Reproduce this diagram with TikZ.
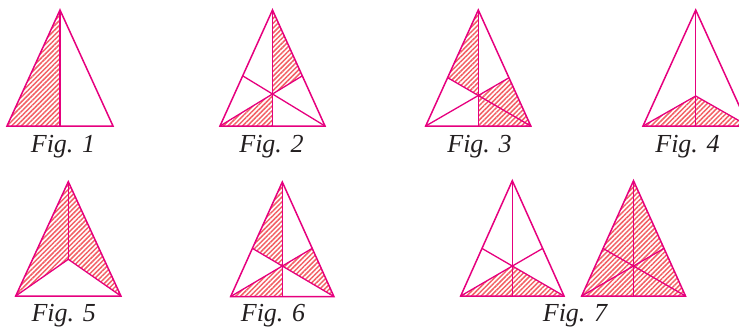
\documentclass[tikz,border=0pt]{standalone}
\usepackage{fontspec}
\setmainfont{Liberation Serif}
\usetikzlibrary{patterns.meta}
\definecolor{edgemag}{RGB}{230,0,126}
\definecolor{hatchred}{RGB}{242,96,100}
\definecolor{inkgray}{RGB}{35,31,32}
\tikzset{
  side/.style={draw=edgemag, line width=1.5pt, line join=miter},
  cut/.style={draw=edgemag, line width=1.3pt},
  shaded/.style={pattern={Lines[angle=45,distance=3.4pt,line width=1.5pt]}, pattern color=hatchred},
  figlabel/.style={anchor=base, inner sep=0pt, text=inkgray,
    font=\fontsize{26}{30}\selectfont\itshape}
}

\begin{document}
\begin{tikzpicture}[x=1pt,y=-1pt]
  \useasboundingbox (0,0) rectangle (739,330);
  \clip (0,0) rectangle (739,330);

  % Fig. 1
  \coordinate (a1) at (60,10);
  \coordinate (b1) at (7,126);
  \coordinate (c1) at (113,126);
  \coordinate (m1) at (60,126);
  \fill[shaded] (a1) -- (b1) -- (m1) -- cycle;
  \draw[side] (a1) -- (b1) -- (c1) -- cycle;
  \draw[cut] (a1) -- (m1);

  % Fig. 2
  \coordinate (a2) at (272.5,10);
  \coordinate (b2) at (220,126);
  \coordinate (c2) at (325,126);
  \coordinate (m2) at (272.5,126);
  \coordinate (o2) at (272.5,94);
  \coordinate (l2) at (intersection of c2--o2 and a2--b2);
  \coordinate (r2) at (intersection of b2--o2 and a2--c2);
  \fill[shaded] (a2) -- (o2) -- (r2) -- cycle;
  \fill[shaded] (b2) -- (m2) -- (o2) -- cycle;
  \draw[side] (a2) -- (b2) -- (c2) -- cycle;
  \draw[cut] (a2) -- (m2);
  \draw[cut] (b2) -- (r2);
  \draw[cut] (c2) -- (l2);

  % Fig. 3
  \coordinate (a3) at (478.3,10);
  \coordinate (b3) at (425.7,126);
  \coordinate (c3) at (530.8,126);
  \coordinate (m3) at (478.3,126);
  \coordinate (o3) at (478.3,95.5);
  \coordinate (l3) at (intersection of c3--o3 and a3--b3);
  \coordinate (r3) at (intersection of b3--o3 and a3--c3);
  \fill[shaded] (a3) -- (l3) -- (o3) -- cycle;
  \fill[shaded] (o3) -- (r3) -- (c3) -- (m3) -- cycle;
  \draw[side] (a3) -- (b3) -- (c3) -- cycle;
  \draw[cut] (a3) -- (m3);
  \draw[cut] (b3) -- (r3);
  \draw[cut] (c3) -- (l3);

  % Fig. 4
  \coordinate (a4) at (695.7,10);
  \coordinate (b4) at (643,126);
  \coordinate (c4) at (748.4,126);
  \coordinate (m4) at (695.7,126);
  \coordinate (o4) at (695.7,96);
  \fill[shaded] (b4) -- (o4) -- (c4) -- cycle;
  \draw[side] (a4) -- (b4) -- (c4) -- cycle;
  \draw[cut] (a4) -- (m4);
  \draw[cut] (b4) -- (o4) -- (c4);

  % Fig. 5
  \coordinate (a5) at (68.3,181.7);
  \coordinate (b5) at (15.7,296);
  \coordinate (c5) at (120.9,296);
  \coordinate (o5) at (68.3,259.3);
  \fill[shaded] (a5) -- (b5) -- (o5) -- (c5) -- cycle;
  \draw[side] (a5) -- (b5) -- (c5) -- cycle;
  \draw[cut] (a5) -- (o5);
  \draw[cut] (b5) -- (o5) -- (c5);

  % Fig. 6
  \coordinate (a6) at (282.3,182);
  \coordinate (b6) at (230.7,296.5);
  \coordinate (c6) at (333.9,296.5);
  \coordinate (m6) at (282.3,296.5);
  \coordinate (o6) at (282.3,266);
  \coordinate (l6) at (intersection of c6--o6 and a6--b6);
  \coordinate (r6) at (intersection of b6--o6 and a6--c6);
  \fill[shaded] (a6) -- (l6) -- (o6) -- cycle;
  \fill[shaded] (o6) -- (r6) -- (c6) -- cycle;
  \fill[shaded] (b6) -- (m6) -- (o6) -- cycle;
  \draw[side] (a6) -- (b6) -- (c6) -- cycle;
  \draw[cut] (a6) -- (m6);
  \draw[cut] (b6) -- (r6);
  \draw[cut] (c6) -- (l6);

  % Fig. 7, left
  \coordinate (a7) at (512.3,180.7);
  \coordinate (b7) at (460.7,296);
  \coordinate (c7) at (564,296);
  \coordinate (m7) at (512.3,296);
  \coordinate (o7) at (512.3,266);
  \coordinate (l7) at (intersection of c7--o7 and a7--b7);
  \coordinate (r7) at (intersection of b7--o7 and a7--c7);
  \fill[shaded] (b7) -- (c7) -- (o7) -- cycle;
  \draw[side] (a7) -- (b7) -- (c7) -- cycle;
  \draw[cut] (a7) -- (m7);
  \draw[cut] (b7) -- (r7);
  \draw[cut] (c7) -- (l7);

  % Fig. 7, right
  \coordinate (a8) at (633.5,180.7);
  \coordinate (b8) at (581.7,296);
  \coordinate (c8) at (685.5,296);
  \coordinate (m8) at (633.5,296);
  \coordinate (o8) at (633.5,266);
  \coordinate (l8) at (intersection of c8--o8 and a8--b8);
  \coordinate (r8) at (intersection of b8--o8 and a8--c8);
  \fill[shaded] (a8) -- (b8) -- (c8) -- cycle;
  \draw[side] (a8) -- (b8) -- (c8) -- cycle;
  \draw[cut] (a8) -- (m8);
  \draw[cut] (b8) -- (r8);
  \draw[cut] (c8) -- (l8);

  % labels
  \node[figlabel] (f1) at (63,152.5) {Fig. 1};
  \node[figlabel] (f2) at (271.5,152.5) {Fig. 2};
  \node[figlabel] (f3) at (479.5,152.5) {Fig. 3};
  \node[figlabel] (f4) at (687.5,152.5) {Fig. 4};
  \node[figlabel] (f5) at (63.7,321) {Fig. 5};
  \node[figlabel] (f6) at (273,321) {Fig. 6};
  \node[figlabel] (f7) at (575,321.5) {Fig. 7};
\end{tikzpicture}
\end{document}
